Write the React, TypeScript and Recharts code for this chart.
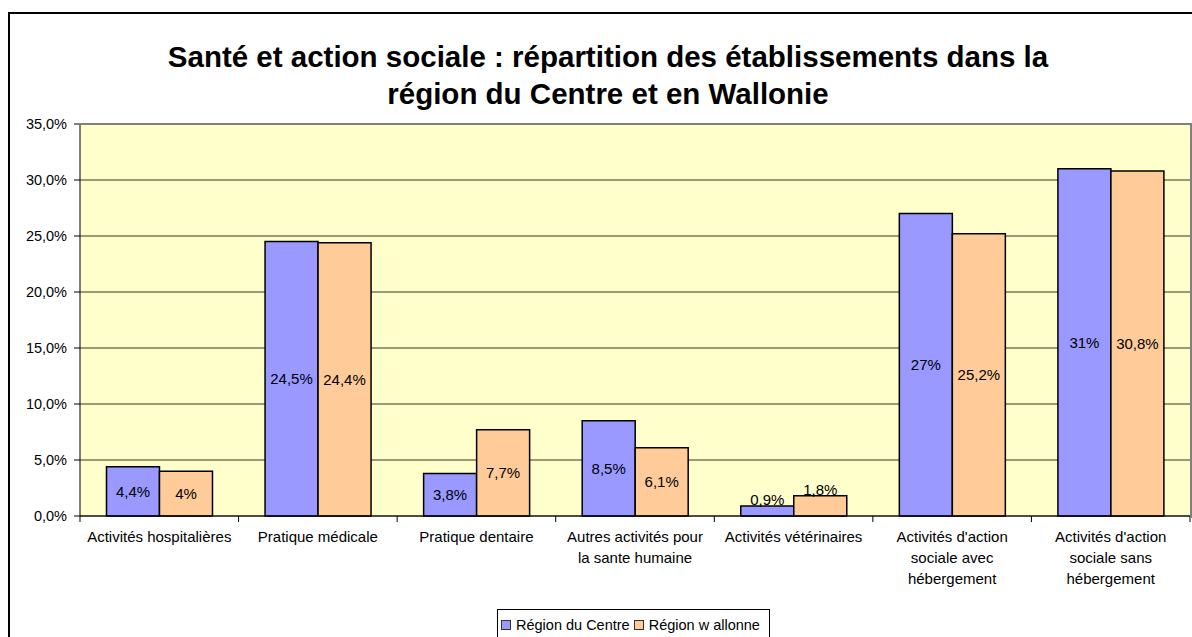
import React from "react";
import { BarChart, Bar, XAxis, YAxis, CartesianGrid, LabelList } from "recharts";

const titleLines = [
  "Santé et action sociale : répartition des établissements dans la",
  "région du Centre et en Wallonie",
];
const categories = [
  "Activités hospitalières",
  "Pratique médicale",
  "Pratique dentaire",
  "Autres activités pour\nla sante humaine",
  "Activités vétérinaires",
  "Activités d'action\nsociale avec\nhébergement",
  "Activités d'action\nsociale sans\nhébergement",
];
const centreValues = [4.4, 24.5, 3.8, 8.5, 0.9, 27, 31];
const wallonneValues = [4, 24.4, 7.7, 6.1, 1.8, 25.2, 30.8];
const seriesNames = ["Région du Centre", "Région w allonne"];
const seriesColors = ["#9999FF", "#FFCC99"];
const yTicks = [0, 5, 10, 15, 20, 25, 30, 35];

const data = categories.map((name, i) => ({
  name,
  centre: centreValues[i],
  wallonne: wallonneValues[i],
}));

const FONT = "'Liberation Sans', Arial, sans-serif";
const comma = (v: number) => String(v).replace(".", ",");

const CategoryTick = (props: any) => {
  const { x, y, payload, index, visibleTicksCount } = props;
  const half = payload.offset || 1110 / 14;
  const axisY = y - 8;
  const lines = String(payload.value).split("\n");
  return (
    <g>
      <line x1={x - half} x2={x - half} y1={axisY} y2={axisY + 6} stroke="#000" />
      {index === visibleTicksCount - 1 && (
        <line x1={x + half} x2={x + half} y1={axisY} y2={axisY + 6} stroke="#000" />
      )}
      <text x={x} y={y + 18} textAnchor="middle" fontSize={15} fontFamily={FONT} fill="#000">
        {lines.map((l, i) => (
          <tspan key={i} x={x} dy={i === 0 ? 0 : 21}>
            {l}
          </tspan>
        ))}
      </text>
    </g>
  );
};

const renderValue = (props: any) => {
  const { x, y, width, height, value } = props;
  const cx = x + width / 2;
  if (height < 25) {
    return (
      <text x={cx} y={y - 1} textAnchor="middle" fontSize={15} fontFamily={FONT} fill="#000">
        {comma(value) + "%"}
      </text>
    );
  }
  return (
    <text x={cx} y={y + height / 2} dy="0.35em" textAnchor="middle" fontSize={15} fontFamily={FONT} fill="#000">
      {comma(value) + "%"}
    </text>
  );
};

export default function App() {
  return (
    <div
      style={{
        position: "absolute",
        left: 0,
        top: 0,
        width: 1192,
        height: 637,
        overflow: "hidden",
        background: "#fff",
        fontFamily: FONT,
      }}
    >
      <div
        style={{
          position: "absolute",
          left: 8,
          top: 12,
          width: 1300,
          height: 700,
          border: "2px solid #000",
        }}
      />
      <div
        style={{
          position: "absolute",
          left: 0,
          top: 38,
          width: 1216,
          textAlign: "center",
          fontSize: 29.5,
          fontWeight: "bold",
          lineHeight: "37px",
          color: "#000",
          whiteSpace: "nowrap",
        }}
      >
        {titleLines.map((t) => (
          <div key={t}>{t}</div>
        ))}
      </div>
      <div style={{ position: "absolute", left: 0, top: 0 }}>
        <BarChart
          width={1192}
          height={637}
          data={data}
          margin={{ top: 124, right: 2, left: 0, bottom: 41 }}
          barCategoryGap="16.7%"
          barGap={0}
        >
          <CartesianGrid vertical={false} stroke="#333" fill="#FFFFCC" />
          <XAxis
            dataKey="name"
            height={80}
            interval={0}
            tickLine={false}
            axisLine={{ stroke: "#000" }}
            tick={<CategoryTick />}
          />
          <YAxis
            width={80}
            domain={[0, 35]}
            ticks={yTicks}
            interval={0}
            tickSize={6}
            tickMargin={7}
            tickFormatter={(v: number) => v.toFixed(1).replace(".", ",") + "%"}
            tick={{ fontSize: 14.5, fill: "#000", fontFamily: FONT }}
            axisLine={{ stroke: "#000" }}
            tickLine={{ stroke: "#000" }}
          />
          <Bar dataKey="centre" name={seriesNames[0]} fill={seriesColors[0]} stroke="#000" strokeWidth={1.5} isAnimationActive={false}>
            <LabelList dataKey="centre" content={renderValue} />
          </Bar>
          <Bar dataKey="wallonne" name={seriesNames[1]} fill={seriesColors[1]} stroke="#000" strokeWidth={1.5} isAnimationActive={false}>
            <LabelList dataKey="wallonne" content={renderValue} />
          </Bar>
        </BarChart>
      </div>
      <div
        style={{
          position: "absolute",
          left: 79,
          top: 123,
          width: 1111,
          height: 393,
          borderTop: "2px solid #808080",
          borderRight: "2px solid #808080",
          pointerEvents: "none",
        }}
      />
      <div
        style={{
          position: "absolute",
          left: 497,
          top: 609,
          width: 273,
          height: 40,
          border: "1px solid #000",
          background: "#fff",
          boxSizing: "border-box",
          fontSize: 14.5,
          color: "#000",
          whiteSpace: "nowrap",
        }}
      >
        <div style={{ display: "flex", alignItems: "center", height: 29, paddingLeft: 3 }}>
          {seriesNames.map((n, i) => (
            <div key={n} style={{ display: "flex", alignItems: "center", marginRight: 4 }}>
              <span
                style={{
                  display: "inline-block",
                  width: 8,
                  height: 8,
                  border: "1px solid #333",
                  background: seriesColors[i],
                  marginRight: 5,
                }}
              />
              <span>{n}</span>
            </div>
          ))}
        </div>
      </div>
    </div>
  );
}
